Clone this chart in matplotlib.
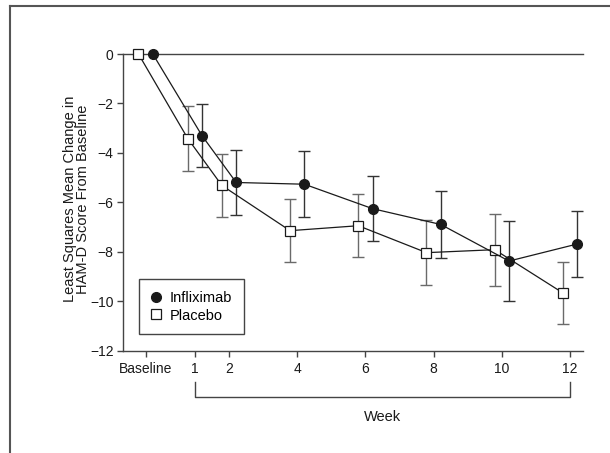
import matplotlib
matplotlib.use("Agg")
import matplotlib.pyplot as plt
from matplotlib.lines import Line2D
from matplotlib import font_manager

names = {f.name for f in font_manager.fontManager.ttflist}
fam = 'Liberation Sans Narrow' if 'Liberation Sans Narrow' in names else 'Liberation Sans'
plt.rcParams['font.family'] = [fam, 'DejaVu Sans']

# ---- data ----
weeks = [0, 1, 2, 4, 6, 8, 10, 12]          # 0 = Baseline
tick_labels = ['Baseline', '1', '2', '4', '6', '8', '10', '12']
infliximab_mean = [0.0, -3.31, -5.20, -5.27, -6.26, -6.90, -8.38, -7.69]
infliximab_err = [0.0, 1.28, 1.30, 1.33, 1.31, 1.35, 1.62, 1.34]
placebo_mean = [0.0, -3.42, -5.32, -7.15, -6.95, -8.04, -7.92, -9.67]
placebo_err = [0.0, 1.30, 1.27, 1.28, 1.27, 1.31, 1.46, 1.27]
y_ticks = [0, -2, -4, -6, -8, -10, -12]

# ---- layout ----
BASE_POS = -0.445
OFF = 0.21
pos = [BASE_POS if w == 0 else w for w in weeks]
x_inf = [p + OFF for p in pos]
x_pla = [p - OFF for p in pos]

fig = plt.figure(figsize=(6.10, 4.53), dpi=100)
# outer frame (top and left)
fig.add_artist(Line2D([9.5/610, 9.5/610], [0, 1 - 6/453], color='#555555', lw=1.5))
fig.add_artist(Line2D([9.5/610, 1], [1 - 6/453, 1 - 6/453], color='#555555', lw=1.5))

ax = fig.add_axes([123.3/610, 1 - 350.5/453, 459.4/610, 296.5/453])
ax.set_xlim(-1.10, 12.37)
ax.set_ylim(-12, 0)

line_c = '#1a1a1a'
ax.errorbar(x_pla[1:], placebo_mean[1:], yerr=placebo_err[1:], fmt='none',
            ecolor='#6a6a6a', elinewidth=1.0, capsize=4.6, capthick=1.0, zorder=2, clip_on=False)
ax.errorbar(x_inf[1:], infliximab_mean[1:], yerr=infliximab_err[1:], fmt='none',
            ecolor='#333333', elinewidth=1.0, capsize=4.6, capthick=1.0, zorder=2, clip_on=False)
ax.plot(x_pla, placebo_mean, color=line_c, lw=0.9, marker='s', ms=7.5,
        mfc='white', mec='#1a1a1a', mew=0.9, zorder=4, clip_on=False)
ax.plot(x_inf, infliximab_mean, color=line_c, lw=0.9, marker='o', ms=7,
        mfc='#1a1a1a', mec='#1a1a1a', zorder=5, clip_on=False)

ax.spines['right'].set_visible(False)
for s in ['left', 'bottom', 'top']:
    ax.spines[s].set_color('#444444')
    ax.spines[s].set_linewidth(1.0)

ax.set_xticks(pos)
ax.set_xticklabels(tick_labels)
ax.set_yticks(y_ticks)
ax.set_yticklabels([('\u2212' + str(-v)) if v < 0 else str(v) for v in y_ticks])
ax.tick_params(axis='both', direction='out', length=4, width=1.0, color='#444444',
               labelsize=10, labelcolor='#1a1a1a', pad=3)
ax.tick_params(axis='x', pad=4)

ax.set_ylabel('Least Squares Mean Change in\nHAM-D Score From Baseline',
              fontsize=10.5, color='#1a1a1a', linespacing=0.92)
ax.yaxis.set_label_coords(-0.072, 0.51)

# week bracket
ytop = -12 - (381.7 - 350.5) / 24.7
ybot = -12 - (396.7 - 350.5) / 24.7
bk = dict(color='#444444', lw=1.0, clip_on=False)
ax.plot([1, 1, 12, 12], [ytop, ybot, ybot, ytop], **bk)
ax.text(6.5, -12 - (417 - 350.5) / 24.7, 'Week', ha='center', va='center',
        fontsize=10.5, color='#1a1a1a', clip_on=False)

handles = [Line2D([], [], ls='none', marker='o', ms=7, mfc='#1a1a1a', mec='#1a1a1a'),
           Line2D([], [], ls='none', marker='s', ms=7.5, mfc='white', mec='#1a1a1a', mew=0.9)]
leg = ax.legend(handles, ['Infliximab', 'Placebo'], loc='lower left',
                bbox_to_anchor=(0.034, 0.055), borderaxespad=0, fancybox=False,
                edgecolor='#444444', fontsize=10.5, handlelength=0.8, handletextpad=0.5,
                borderpad=0.8, labelspacing=0.25, framealpha=1)
leg.get_frame().set_linewidth(1.0)

fig.savefig('out.png', dpi=100)
